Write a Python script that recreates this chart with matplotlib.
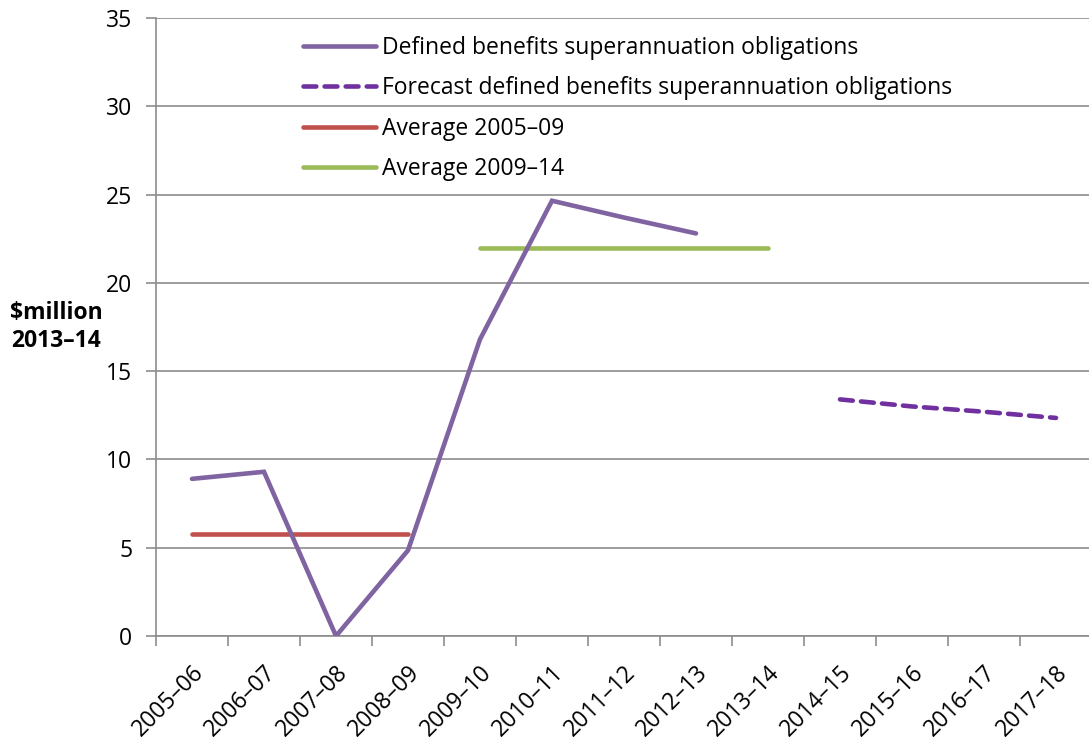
import matplotlib
matplotlib.use("Agg")
import matplotlib.pyplot as plt
import numpy as np

categories = ["2005–06", "2006–07", "2007–08", "2008–09", "2009–10", "2010–11",
              "2011–12", "2012–13", "2013–14", "2014–15", "2015–16", "2016–17", "2017–18"]
defined = [8.9, 9.3, 0.0, 4.85, 16.8, 24.65, 23.7, 22.8, None, None, None, None, None]
forecast = [None, None, None, None, None, None, None, None, None, 13.4, 13.0, 12.7, 12.35]
avg_0509 = [5.75, 5.75, 5.75, 5.75, None, None, None, None, None, None, None, None, None]
avg_0914 = [None, None, None, None, 22.0, 22.0, 22.0, 22.0, 22.0, None, None, None, None]
yticks = [0, 5, 10, 15, 20, 25, 30, 35]

plt.rcParams['font.family'] = ['Open Sans', 'DejaVu Sans']
FS = 16.5
LW = 3.3

def arr(v):
    return np.array([np.nan if x is None else x for x in v], dtype=float)

fig = plt.figure(figsize=(10.89, 7.42), dpi=100)
ax = fig.add_axes([156/1089, 106/742, 936/1089, 618/742])
x = np.arange(len(categories))

ax.plot(x, arr(defined), color="#8064A2", lw=LW, solid_capstyle="round", solid_joinstyle="miter",
        label="Defined benefits superannuation obligations", zorder=3)
ax.plot(x, arr(forecast), color="#7030A0", lw=LW, dashes=(2.8, 1.8), dash_capstyle="round",
        label="Forecast defined benefits superannuation obligations", zorder=3)
ax.plot(x, arr(avg_0509), color="#C0504D", lw=LW, solid_capstyle="round",
        label="Average 2005–09", zorder=2)
ax.plot(x, arr(avg_0914), color="#9BBB59", lw=LW, solid_capstyle="round",
        label="Average 2009–14", zorder=2)

ax.set_xlim(-0.5, len(categories) - 0.5)
ax.set_ylim(0, 35)
ax.set_yticks(yticks)
ax.set_yticklabels([str(t) for t in yticks], fontsize=FS)
ax.yaxis.grid(True, color="#8c8c8c", lw=1.2)
ax.set_axisbelow(True)

ax.set_xticks(np.arange(len(categories) + 1) - 0.5)
ax.set_xticklabels([])
ax.set_xticks(x, minor=True)
ax.set_xticklabels(categories, minor=True, rotation=45, ha="right", rotation_mode="anchor", fontsize=FS)
ax.tick_params(axis="x", which="minor", length=0, pad=18)
ax.tick_params(axis="x", which="major", length=7, width=1.2, color="#8c8c8c", direction="out")
ax.tick_params(axis="y", length=7, width=1.2, color="#8c8c8c", direction="out", pad=10)

for s in ["top", "right"]:
    ax.spines[s].set_visible(False)
for s in ["left", "bottom"]:
    ax.spines[s].set_color("#8c8c8c")
    ax.spines[s].set_linewidth(1.2)

fig.text(56/1089, 1 - 327/742, "$million\n2013–14", ha="center", va="center",
         fontsize=FS, fontweight="bold", linespacing=1.25)

leg = ax.legend(loc="upper left", bbox_to_anchor=(292/1089, 1 - 25/742),
                bbox_transform=fig.transFigure, frameon=False, fontsize=FS,
                handlelength=3.15, handletextpad=0.28, labelspacing=0.7, borderpad=0)

fig.savefig("out.png", dpi=100)
